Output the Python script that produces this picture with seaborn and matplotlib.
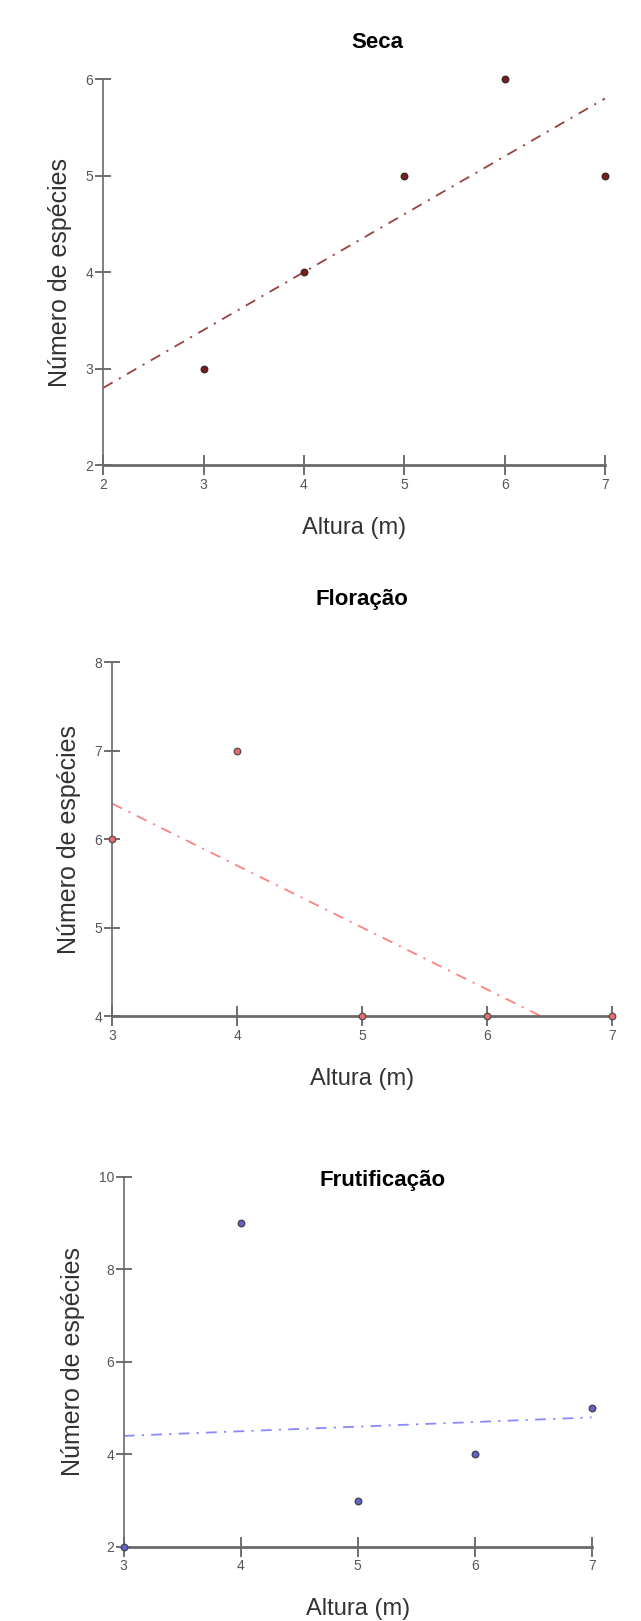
import numpy as np
import pandas as pd
import seaborn as sns
import matplotlib.pyplot as plt

# dados
altura_seca = [3, 4, 5, 6, 7]
especies_seca = [3, 4, 5, 6, 5]

altura_floracao = [3, 4, 5, 6, 7]
especies_floracao = [6, 7, 4, 4, 4]

altura_frut = [3, 4, 5, 6, 7]
especies_frut = [2, 9, 3, 4, 5]

titulos = ['Seca', 'Floração', 'Frutificação']
xticks_all = [[2, 3, 4, 5, 6, 7], [3, 4, 5, 6, 7], [3, 4, 5, 6, 7]]
yticks_all = [[2, 3, 4, 5, 6], [4, 5, 6, 7, 8], [2, 4, 6, 8, 10]]

sns.set_theme(style="white")
plt.rcParams['font.family'] = ['Liberation Sans', 'DejaVu Sans']

fig = plt.figure(figsize=(6.41, 16.21), dpi=100)

# posição dos eixos (fração da figura) e estilos de cada painel
config = [
    {'rect': [0.161, 0.7131, 0.783, 0.2381], 'x': altura_seca, 'y': especies_seca,
     'fill': '#7a1c1c', 'edge': '#3a2a2a', 'line': '#9a4040', 'title_xy': (0.588, 0.974)},
    {'rect': [0.175, 0.3732, 0.780, 0.2184], 'x': altura_floracao, 'y': especies_floracao,
     'fill': '#f06a6a', 'edge': '#555555', 'line': '#ff8080', 'title_xy': (0.565, 0.630)},
    {'rect': [0.193, 0.0457, 0.730, 0.2283], 'x': altura_frut, 'y': especies_frut,
     'fill': '#6464cc', 'edge': '#444455', 'line': '#8888ff', 'title_xy': (0.597, 0.272)},
]

for i, conf in enumerate(config):
    ax = fig.add_axes(conf['rect'])
    df = pd.DataFrame({'altura': conf['x'], 'especies': conf['y']})
    xt, yt = xticks_all[i], yticks_all[i]
    ax.set_xlim(xt[0], xt[-1])
    ax.set_ylim(yt[0], yt[-1])

    # reta de regressão estendida até os limites do eixo
    sns.regplot(data=df, x='altura', y='especies', ax=ax, scatter=False, ci=None,
                truncate=False, line_kws={'color': conf['line'], 'lw': 1.3,
                                          'linestyle': (0, (6, 4, 1.2, 4))})
    sns.scatterplot(data=df, x='altura', y='especies', ax=ax, s=22,
                    color=conf['fill'], edgecolor=conf['edge'], linewidth=1.0,
                    clip_on=False, zorder=5)

    ax.set_xlim(xt[0], xt[-1])
    ax.set_ylim(yt[0], yt[-1])
    ax.set_xticks(xt)
    ax.set_yticks(yt)

    for side in ['top', 'right']:
        ax.spines[side].set_visible(False)
    for side in ['left', 'bottom']:
        ax.spines[side].set_color('#6a6a6a')
    ax.spines['left'].set_linewidth(1.2)
    ax.spines['bottom'].set_linewidth(2.0)

    ax.tick_params(axis='x', direction='inout', length=14, width=1.2, color='#555555',
                   labelsize=10, labelcolor='#555555', pad=2)
    ax.tick_params(axis='y', direction='inout', length=12, width=1.2, color='#555555',
                   labelsize=10, labelcolor='#555555', pad=1)
    ax.tick_params(bottom=True, left=True)

    ax.set_xlabel('Altura (m)', fontsize=17, color='#333333', labelpad=18)
    ax.set_ylabel('Número de espécies', fontsize=18, color='#333333', labelpad=10)

    fig.text(conf['title_xy'][0], conf['title_xy'][1], titulos[i], ha='center', va='center',
             fontsize=16, fontweight='bold', color='black')

fig.savefig('out.png', dpi=100)
